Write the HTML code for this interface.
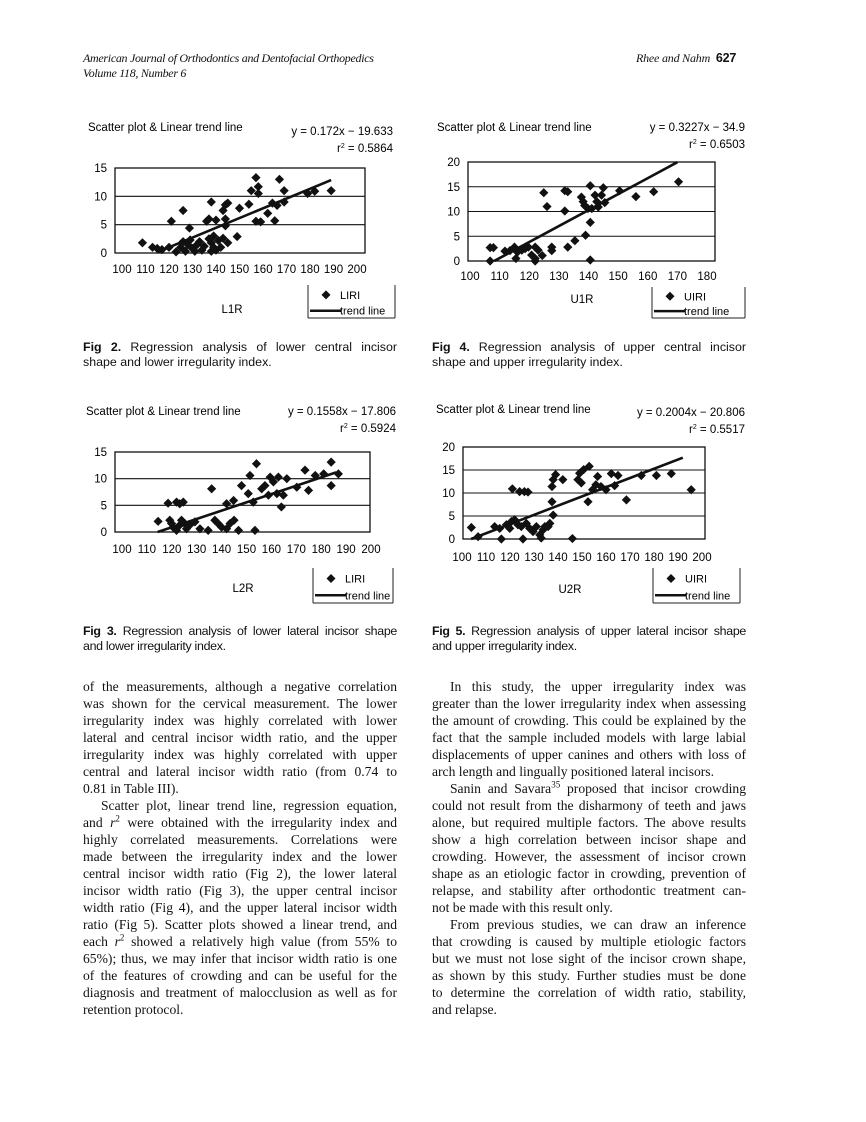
<!DOCTYPE html>
<html><head><meta charset="utf-8">
<style>
body{margin:0;background:#fff;}
#pg{position:relative;width:866px;height:1122px;overflow:hidden;background:#fff;color:#111;}
.hd{position:absolute;font-family:"Liberation Serif",serif;font-style:italic;font-size:12px;letter-spacing:-0.3px;}
.cap{position:absolute;font-family:"Liberation Sans",sans-serif;font-size:12.4px;line-height:15px;width:314px;}
.cap div{text-align:justify;text-align-last:justify;white-space:nowrap;}
.cap div.l{text-align-last:left;}
.col{position:absolute;top:678px;width:314px;font-family:"Liberation Serif",serif;font-size:13.6px;line-height:17px;}
.col div{text-align:justify;text-align-last:justify;white-space:nowrap;height:17px;}
.col div.l{text-align-last:left;}
.col div.i{padding-left:18px;}
svg{position:absolute;left:0;top:0;}
</style></head><body><div id="pg">
<div class="hd" style="left:83px;top:51px;">American Journal of Orthodontics and Dentofacial Orthopedics</div>
<div class="hd" style="left:83px;top:66px;">Volume 118, Number 6</div>
<div class="hd" style="left:636px;top:51px;letter-spacing:-0.2px;">Rhee and Nahm <b style="font-style:normal;font-family:'Liberation Sans',sans-serif;font-size:12.5px;margin-left:3px;">627</b></div>

<svg id="sv" width="866" height="1122" font-family="Liberation Sans, sans-serif"></svg>

<div class="cap" style="left:83px;top:340px;"><div><b>Fig 2.</b> Regression analysis of lower central incisor</div><div class="l">shape and lower irregularity index.</div></div>
<div class="cap" style="left:432px;top:340px;"><div><b>Fig 4.</b> Regression analysis of upper central incisor</div><div class="l">shape and upper irregularity index.</div></div>
<div class="cap" style="left:83px;top:624px;letter-spacing:-0.3px;"><div><b>Fig 3.</b> Regression analysis of lower lateral incisor shape</div><div class="l">and lower irregularity index.</div></div>
<div class="cap" style="left:432px;top:624px;letter-spacing:-0.3px;"><div><b>Fig 5.</b> Regression analysis of upper lateral incisor shape</div><div class="l">and upper irregularity index.</div></div>

<div class="col" style="left:83px;">
<div>of the measurements, although a negative correlation</div>
<div>was shown for the cervical measurement. The lower</div>
<div>irregularity index was highly correlated with lower</div>
<div>lateral and central incisor width ratio, and the upper</div>
<div>irregularity index was highly correlated with upper</div>
<div>central and lateral incisor width ratio (from 0.74 to</div>
<div class="l">0.81 in Table III).</div>
<div class="i">Scatter plot, linear trend line, regression equation,</div>
<div>and <i>r</i><sup style="font-size:9px;line-height:0">2</sup> were obtained with the irregularity index and</div>
<div>highly correlated measurements. Correlations were</div>
<div>made between the irregularity index and the lower</div>
<div>central incisor width ratio (Fig 2), the lower lateral</div>
<div>incisor width ratio (Fig 3), the upper central incisor</div>
<div>width ratio (Fig 4), and the upper lateral incisor width</div>
<div>ratio (Fig 5). Scatter plots showed a linear trend, and</div>
<div>each <i>r</i><sup style="font-size:9px;line-height:0">2</sup> showed a relatively high value (from 55% to</div>
<div>65%); thus, we may infer that incisor width ratio is one</div>
<div>of the features of crowding and can be useful for the</div>
<div>diagnosis and treatment of malocclusion as well as for</div>
<div class="l">retention protocol.</div>
</div>
<div class="col" style="left:432px;">
<div class="i">In this study, the upper irregularity index was</div>
<div>greater than the lower irregularity index when assessing</div>
<div>the amount of crowding. This could be explained by the</div>
<div>fact that the sample included models with large labial</div>
<div>displacements of upper canines and others with loss of</div>
<div class="l">arch length and lingually positioned lateral incisors.</div>
<div class="i">Sanin and Savara<sup style="font-size:9px;line-height:0">35</sup> proposed that incisor crowding</div>
<div>could not result from the disharmony of teeth and jaws</div>
<div>alone, but required multiple factors. The above results</div>
<div>show a high correlation between incisor shape and</div>
<div>crowding. However, the assessment of incisor crown</div>
<div>shape as an etiologic factor in crowding, prevention of</div>
<div>relapse, and stability after orthodontic treatment can-</div>
<div class="l">not be made with this result only.</div>
<div class="i">From previous studies, we can draw an inference</div>
<div>that crowding is caused by multiple etiologic factors</div>
<div>but we must not lose sight of the incisor crown shape,</div>
<div>as shown by this study. Further studies must be done</div>
<div>to determine the correlation of width ratio, stability,</div>
<div class="l">and relapse.</div>
</div>
</div>
<script>
var NS="http://www.w3.org/2000/svg",sv=document.getElementById('sv');
function el(t,a,txt){var e=document.createElementNS(NS,t);for(var k in a)e.setAttribute(k,a[k]);if(txt!=null)e.textContent=txt;sv.appendChild(e);return e;}
function chart(c){
 var X=function(v){return c.x0+(v-c.xa)*(c.x1-c.x0)/(c.xb-c.xa);};
 var Y=function(v){return c.y0+(v)*(c.y1-c.y0)/c.ym;};
 el('text',{x:c.tx,y:c.ty,'font-size':11.5},'Scatter plot & Linear trend line');
 el('text',{x:c.ex,y:c.ey,'font-size':11.5,'text-anchor':'end'},c.eq);
 var r=el('text',{x:c.ex,y:c.ey+17,'font-size':11.5,'text-anchor':'end'});r.innerHTML='r<tspan dy="-4" font-size="7">2</tspan><tspan dy="4"> = '+c.r2+'</tspan>';
 for(var g=c.step;g<c.ym;g+=c.step){el('line',{x1:c.bx0,x2:c.bx1,y1:Y(g),y2:Y(g),stroke:'#111','stroke-width':1.1});}
 el('rect',{x:c.bx0,y:Y(c.ym),width:c.bx1-c.bx0,height:c.y0-Y(c.ym),fill:'none',stroke:'#111','stroke-width':1.3});
 for(var g=0;g<=c.ym;g+=c.step){el('text',{x:c.bx0-8,y:Y(g)+4,'font-size':11.5,'text-anchor':'end'},g);}
 for(var v=c.xa;v<=c.xb;v+=10){el('text',{x:X(v),y:c.lab,'font-size':11.5,'text-anchor':'middle'},v);}
 c.pts.forEach(function(p){var x=X(p[0]),y=Y(p[1]),s=4.6;el('polygon',{points:(x)+','+(y-s)+' '+(x+s)+','+y+' '+x+','+(y+s)+' '+(x-s)+','+y,fill:'#111'});});
 el('line',{x1:X(c.t0),y1:Y(c.m*c.t0+c.b),x2:X(c.t1),y2:Y(c.m*c.t1+c.b),stroke:'#111','stroke-width':2.6});
 var L=c.leg;
 el('line',{x1:L[0],y1:L[1],x2:L[0],y2:L[3],stroke:'#222','stroke-width':1});
 el('line',{x1:L[2],y1:L[1],x2:L[2],y2:L[3],stroke:'#222','stroke-width':1});
 el('line',{x1:L[0],y1:L[3],x2:L[2],y2:L[3],stroke:'#222','stroke-width':1});
 var cy=L[1]+(L[3]-L[1])*0.3,cx=L[0]+18;
 el('polygon',{points:cx+','+(cy-4.5)+' '+(cx+4.5)+','+cy+' '+cx+','+(cy+4.5)+' '+(cx-4.5)+','+cy,fill:'#111'});
 el('text',{x:cx+14,y:cy+4,'font-size':11},c.sn);
 var ly=L[1]+(L[3]-L[1])*0.78;
 el('line',{x1:L[0]+2,x2:L[0]+33,y1:ly,y2:ly,stroke:'#111','stroke-width':2.5});
 el('text',{x:L[0]+32,y:ly+4,'font-size':11},'trend line');
 el('text',{x:c.nx,y:c.ny,'font-size':11.5,'text-anchor':'middle'},c.nm);
}
chart({x0:122,x1:357,xa:100,xb:200,y0:253,y1:168,ym:15,step:5,bx0:115,bx1:365,lab:273,tx:88,ty:131,ex:393,ey:135,eq:'y = 0.172x − 19.633',r2:'0.5864',
 m:0.172,b:-19.633,t0:115,t1:189,leg:[308,285,395,318],sn:'LIRI',nm:'L1R',nx:232,ny:313,
 pts:[[108.7,1.8],[113,1],[115,0.8],[117,0.6],[120,1],[121,5.6],[126,7.5],[128.7,4.4],[123,0.2],[125,1],[126,2],[127,0.3],[128,1.5],[129,2.3],[130,0.8],[131,0.3],[132,1.5],[133,2],[134,0.5],[135,1.2],[136,5.6],[137,6],[137,2.5],[138,1.8],[138,9],[138,0.3],[139,1],[139,3],[140,5.8],[140,0.5],[141,2.2],[142,1],[143,2.6],[143,7.5],[144,8.5],[144,4.8],[144,6],[145,1.8],[145,8.8],[149,2.9],[150,7.9],[154,8.6],[155,11],[157,13.3],[158,11.7],[158,10.5],[157,5.6],[159,5.5],[162,7],[164,8.8],[165,5.7],[166,8.4],[167,13],[169,11],[169,9],[179,10.5],[182,10.9],[189,11]]});
chart({x0:470,x1:707,xa:100,xb:180,y0:261,y1:162,ym:20,step:5,bx0:468,bx1:715,lab:280,tx:437,ty:131,ex:745,ey:131,eq:'y = 0.3227x − 34.9',r2:'0.6503',
 m:0.3227,b:-34.9,t0:108.2,t1:170,leg:[652,287,745,318],sn:'UIRI',nm:'U1R',nx:582,ny:303,
 pts:[[106.8,2.7],[107.9,2.7],[106.8,0],[111.8,2],[113.5,2.1],[115,2.8],[115.5,0.5],[116,1.8],[117.5,2.2],[118.6,2.5],[119.7,2.8],[120.8,1.2],[122,0.5],[122,2.8],[123,2.2],[122,0],[124.4,1.1],[124.9,13.8],[126,11],[127.6,2.8],[127.6,2.1],[132,14.2],[133,14],[132,10.1],[133,2.8],[135.4,4.1],[137.6,12.9],[138.2,12],[138.7,11.2],[139.8,10.6],[139,5.2],[140.6,7.8],[140.6,0.2],[140.6,15.2],[141.1,10.6],[142.2,13.3],[142.8,12],[143.3,10.9],[144.4,13.3],[145,14.8],[145.5,11.8],[150.5,14.2],[156,13],[162,14],[170.4,16]]});
chart({x0:122,x1:371,xa:100,xb:200,y0:532,y1:452,ym:15,step:5,bx0:115,bx1:370,lab:553,tx:86,ty:415,ex:396,ey:415,eq:'y = 0.1558x − 17.806',r2:'0.5924',
 m:0.1558,b:-17.806,t0:114.3,t1:186,leg:[313,568,393,603],sn:'LIRI',nm:'L2R',nx:243,ny:592,
 pts:[[114.5,2],[119.2,2.2],[119.9,1.6],[118.5,5.4],[121.9,5.6],[123.2,5.3],[124.6,5.6],[120.5,0.9],[121.9,0.3],[123.2,1.3],[123.9,2.2],[125.2,1.6],[125.9,0.6],[127.2,1.3],[129.3,1.9],[131.3,0.6],[134.6,0.3],[136,8.1],[137.3,2.2],[138.6,1.6],[140,0.9],[142,5.3],[142,0.6],[143.4,1.6],[144.8,5.9],[145,2.2],[146.8,0.3],[148,8.7],[150.7,7.2],[151.4,10.6],[152.7,5.6],[153.4,0.3],[154,12.8],[156.1,8.1],[157.4,8.7],[158.8,6.9],[159.5,10.3],[160.8,9.4],[162.2,7.2],[162.8,10.3],[164,4.7],[164.8,6.9],[166.2,10],[170.2,8.4],[173.5,11.6],[174.9,7.8],[177.6,10.6],[181,10.9],[184,13.1],[184,8.7],[186.9,10.9]]});
chart({x0:462,x1:702,xa:100,xb:200,y0:539,y1:447,ym:20,step:5,bx0:463,bx1:705,lab:561,tx:436,ty:413,ex:745,ey:416,eq:'y = 0.2004x − 20.806',r2:'0.5517',
 m:0.2004,b:-20.806,t0:103.8,t1:192,leg:[653,568,740,603],sn:'UIRI',nm:'U2R',nx:570,ny:593,
 pts:[[103.9,2.5],[106.7,0.5],[113.6,2.7],[115.7,2.3],[116.4,0],[118.5,3.1],[119.9,2.3],[120.6,3.8],[121,10.9],[124,10.3],[126,10.3],[127.5,10.2],[121.9,4.2],[123.3,3.1],[124.7,2.7],[125.4,0],[126.8,3.4],[128.2,2.3],[129.6,1.6],[131,2.7],[132.4,0.9],[133,0.2],[133.8,2],[134.5,2.7],[135.9,2.7],[136.6,3.4],[137.5,8.1],[138,5.2],[137.5,11.4],[138,12.9],[139,14],[142,12.9],[146,0.1],[148.3,12.9],[149,14.3],[149.7,12.2],[150.7,15.1],[152.5,8.1],[153,15.8],[154.4,10.7],[155.8,11.8],[156.5,13.6],[157.9,11.4],[160,10.7],[162.2,14.2],[163.6,11.6],[165,13.8],[168.5,8.5],[174.7,13.8],[181,13.8],[187.2,14.2],[195.5,10.7]]});
</script>
</body></html>
